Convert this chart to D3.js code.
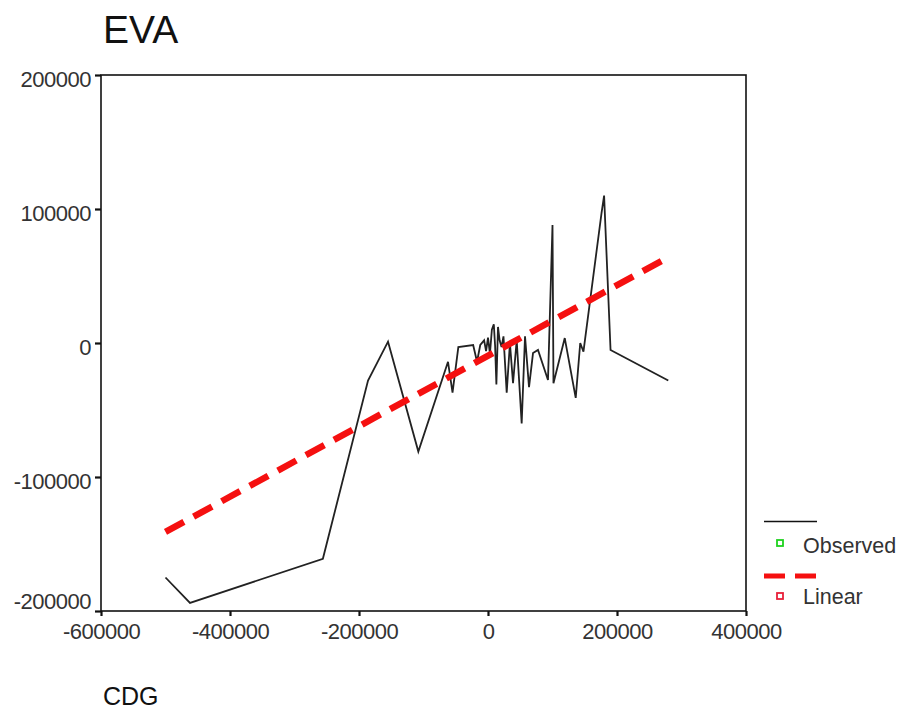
<!DOCTYPE html>
<html><head><meta charset="utf-8">
<script src="https://cdn.jsdelivr.net/npm/d3@7"></script>
<style>body{margin:0;background:#fff;} text{font-family:"Liberation Sans",Arial,sans-serif;}</style>
</head><body><svg id="c" width="899" height="711"></svg>
<script>
// Observed series: CDG (x) vs EVA (y)
const cdg = [-500000,-462000,-256000,-186000,-155000,-108000,-62000,-55000,-46000,-23000,-17000,-12000,
  -6000,-3000,0,3000,6000,9000,11000,13000,15500,18000,21000,24000,29000,34000,38800,44500,52200,57400,
  63600,69800,77500,93000,100000,101500,119000,136000,143000,148000,176000,180000,190000,279500];
const eva = [-175000,-194000,-161000,-28000,1000,-81000,-14000,-37000,-3000,-1500,-14000,-1500,
  2000,-6000,4000,-8000,10000,14000,-2000,-31000,12000,2000,-3000,5000,-37000,0,-30000,2000,-60000,5000,
  -33000,-7500,-5200,-27600,88000,-30000,3700,-41000,0,-6500,97000,110000,-5200,-28000];
// Linear fit endpoints
const linearX = [-500000, 279500];
const linearY = [-141000, 64000];
const xTicks = [-600000,-400000,-200000,0,200000,400000];
const yTicks = [-200000,-100000,0,100000,200000];
const legendLabels = ["Observed","Linear"];
const legendColors = ["#1fd21f","#e8203a"];
const chartTitle = "EVA";
const xTitle = "CDG";

const svg = d3.select("#c");
const x = d3.scaleLinear().domain([-600000,400000]).range([101,746]);
const y = d3.scaleLinear().domain([-200000,200000]).range([611,75]);

svg.append("rect").attr("width",899).attr("height",711).attr("fill","#fff");

// titles
svg.append("text").attr("x",103).attr("y",43).attr("font-size",39).attr("fill","#111").text(chartTitle);
svg.append("text").attr("x",103).attr("y",705).attr("font-size",25).attr("fill","#111").text(xTitle);

// axes
const fmt = d => String(d);
const xa = svg.append("g").attr("transform","translate(0,611)")
  .call(d3.axisBottom(x).tickValues(xTicks).tickSize(5).tickPadding(7).tickFormat(fmt));
const ya = svg.append("g").attr("transform","translate(101,0)")
  .call(d3.axisLeft(y).tickValues(yTicks).tickSize(6).tickPadding(4).tickFormat(fmt));
[xa,ya].forEach(g=>{
  g.select(".domain").remove();
  g.selectAll("line").attr("stroke","#111").attr("stroke-width",2.2);
  g.selectAll("text").attr("font-size",22).attr("letter-spacing","-0.5px").attr("fill","#333")
    .attr("font-family","'Liberation Sans',Arial,sans-serif");
});
ya.selectAll("text").attr("dy","0.5em");
ya.selectAll("text").filter(d=>d===-200000).attr("dy","-0.1em");

// frame
svg.append("rect").attr("x",x(-600000)).attr("y",y(200000))
  .attr("width",x(400000)-x(-600000)).attr("height",y(-200000)-y(200000))
  .attr("fill","none").attr("stroke","#111").attr("stroke-width",1.6);

// observed line
const pts = cdg.map((v,i)=>[v,eva[i]]);
svg.append("path").datum(pts)
  .attr("d",d3.line().x(d=>x(d[0])).y(d=>y(d[1])))
  .attr("fill","none").attr("stroke","#222").attr("stroke-width",1.8).attr("stroke-linejoin","miter");

// linear fit line
const lin = linearX.map((v,i)=>[v,linearY[i]]);
svg.append("path").datum(lin)
  .attr("d",d3.line().x(d=>x(d[0])).y(d=>y(d[1])))
  .attr("fill","none").attr("stroke","#f51010").attr("stroke-width",6.5)
  .attr("stroke-dasharray","21,11");

// legend
const lg = svg.append("g");
lg.append("line").attr("x1",764).attr("x2",817).attr("y1",521.5).attr("y2",521.5)
  .attr("stroke","#111").attr("stroke-width",1.6);
lg.append("line").attr("x1",764).attr("x2",817).attr("y1",576).attr("y2",576)
  .attr("stroke","#f51010").attr("stroke-width",5).attr("stroke-dasharray","21,10");
legendLabels.forEach((lab,i)=>{
  const cy = [543,596][i];
  lg.append("rect").attr("x",777).attr("y",cy-3).attr("width",6).attr("height",6)
    .attr("fill","#fff").attr("stroke",legendColors[i]).attr("stroke-width",1.8);
  lg.append("text").attr("x",803).attr("y",[553,604][i]).attr("font-size",21.5)
    .attr("fill","#333").text(lab);
});
</script></body></html>
